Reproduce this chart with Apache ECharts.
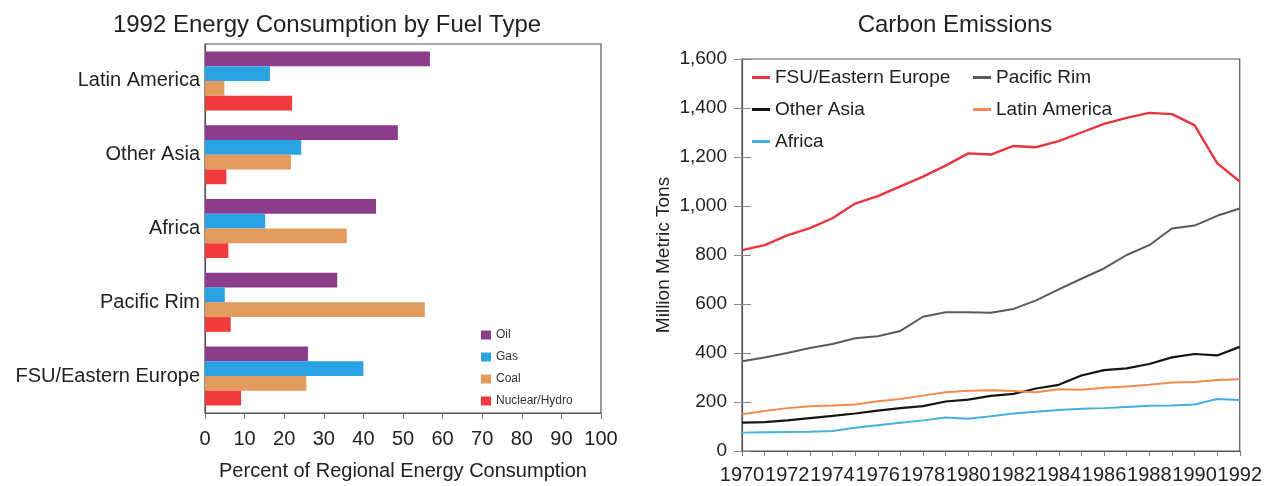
<!DOCTYPE html>
<html>
<head>
<meta charset="utf-8">
<script src="https://cdn.jsdelivr.net/npm/echarts@6/dist/echarts.min.js"></script>
<style>
html,body{margin:0;padding:0;background:#fff;}
#main{width:1265px;height:486px;}
</style>
</head>
<body>
<div id="main"></div>
<script>
// ---- Left chart data: 1992 energy consumption by fuel type (percent) ----
var regions = ['Latin America', 'Other Asia', 'Africa', 'Pacific Rim', 'FSU/Eastern Europe'];
var fuelNames = ['Oil', 'Gas', 'Coal', 'Nuclear/Hydro'];
var oil     = [56.8, 48.7, 43.2, 33.4, 26.0];
var gas     = [16.4, 24.3, 15.2, 5.0, 40.0];
var coal    = [4.9, 21.7, 35.8, 55.5, 25.6];
var nuclear = [22.0, 5.4, 5.9, 6.5, 9.1];
var percentTicks = [0, 100, 10];

// ---- Right chart data: carbon emissions (million metric tons) ----
var years = ['1970','1971','1972','1973','1974','1975','1976','1977','1978','1979','1980','1981',
             '1982','1983','1984','1985','1986','1987','1988','1989','1990','1991','1992'];
var fsu      = [820, 840, 880, 910, 950, 1010, 1040, 1080, 1120, 1165, 1215, 1210, 1245, 1240, 1265, 1300, 1335, 1360, 1380, 1375, 1330, 1175, 1100];
var pacRim   = [366, 382, 400, 420, 437, 460, 468, 490, 548, 566, 566, 564, 580, 615, 660, 703, 745, 800, 840, 908, 920, 960, 990];
var otherAsia= [116, 118, 125, 134, 143, 153, 165, 175, 183, 202, 210, 225, 233, 255, 270, 308, 330, 337, 355, 382, 396, 390, 425];
var latAm    = [150, 163, 175, 183, 186, 190, 203, 212, 226, 240, 246, 248, 245, 240, 252, 250, 258, 263, 270, 280, 282, 290, 293];
var africa   = [75, 77, 78, 79, 82, 95, 105, 115, 125, 137, 132, 142, 153, 160, 167, 172, 175, 180, 185, 186, 190, 212, 208];
var emissionTicks = [0, 1600, 200];

var FONT = '"Liberation Sans", Arial, Helvetica, sans-serif';
var TXT = '#222';
var AX = '#555';

var fuelColors = ['#8b3d8c', '#29a3e3', '#e39a5d', '#f23a3d'];
var fuelData = [oil, gas, coal, nuclear];

var lineDefs = [
  {name: 'FSU/Eastern Europe', data: fsu, color: '#e8343c', w: 2.4},
  {name: 'Pacific Rim', data: pacRim, color: '#5a5a5a', w: 2},
  {name: 'Other Asia', data: otherAsia, color: '#151515', w: 2.2},
  {name: 'Latin America', data: latAm, color: '#f28a4e', w: 2},
  {name: 'Africa', data: africa, color: '#45b0e0', w: 2}
];

var series = [];
fuelNames.forEach(function (n, i) {
  series.push({
    name: n, type: 'bar', xAxisIndex: 0, yAxisIndex: 0,
    data: fuelData[i], barGap: '0%', barCategoryGap: '20%',
    itemStyle: {color: fuelColors[i]}
  });
});
lineDefs.forEach(function (d) {
  series.push({
    name: d.name, type: 'line', xAxisIndex: 1, yAxisIndex: 1,
    data: d.data, symbol: 'none', color: d.color,
    lineStyle: {color: d.color, width: d.w}
  });
});

var chart = echarts.init(document.getElementById('main'), null, {renderer: 'canvas'});
chart.setOption({
  animation: false,
  backgroundColor: '#fff',
  textStyle: {fontFamily: FONT, color: TXT},
  graphic: [
    {type: 'text', x: 327, y: 25, style: {text: '1992 Energy Consumption by Fuel Type', font: '24px ' + FONT, fill: TXT, textAlign: 'center', textVerticalAlign: 'middle'}},
    {type: 'text', x: 955, y: 25, style: {text: 'Carbon Emissions', font: '24px ' + FONT, fill: TXT, textAlign: 'center', textVerticalAlign: 'middle'}}
  ],
  legend: [
    {
      data: fuelNames, orient: 'vertical', left: 476, top: 324,
      itemWidth: 10, itemHeight: 9, itemGap: 10, icon: 'rect',
      textStyle: {fontSize: 12, color: '#333', fontFamily: FONT}
    },
    {
      data: ['FSU/Eastern Europe', 'Other Asia', 'Africa'], orient: 'vertical', left: 747, top: 63,
      itemWidth: 18, itemHeight: 3, itemGap: 13, icon: 'rect',
      textStyle: {fontSize: 19, color: TXT, fontFamily: FONT}
    },
    {
      data: ['Pacific Rim', 'Latin America'], orient: 'vertical', left: 968, top: 63,
      itemWidth: 18, itemHeight: 3, itemGap: 13, icon: 'rect',
      textStyle: {fontSize: 19, color: TXT, fontFamily: FONT}
    }
  ],
  grid: [
    {left: 205, right: 664, top: 44, bottom: 68, show: true, borderColor: AX, borderWidth: 1.2, backgroundColor: 'transparent', containLabel: false},
    {left: 742, right: 23, top: 59, bottom: 35, show: true, borderColor: AX, borderWidth: 1.2, backgroundColor: 'transparent', containLabel: false}
  ],
  xAxis: [
    {
      gridIndex: 0, type: 'value', min: percentTicks[0], max: percentTicks[1], interval: percentTicks[2],
      name: 'Percent of Regional Energy Consumption', nameLocation: 'middle', nameGap: 48,
      nameTextStyle: {fontSize: 20, color: TXT},
      axisLine: {show: true, lineStyle: {color: AX, width: 1.2}},
      axisTick: {show: true, length: 6, lineStyle: {color: '#777'}},
      axisLabel: {fontSize: 20, color: TXT, margin: 16},
      splitLine: {show: false}
    },
    {
      gridIndex: 1, type: 'category', data: years, boundaryGap: false,
      axisLine: {show: true, lineStyle: {color: AX, width: 1.2}},
      axisTick: {show: true, interval: 0, length: 5, lineStyle: {color: '#777'}},
      axisLabel: {interval: 1, fontSize: 20, color: TXT, margin: 14},
      splitLine: {show: false}
    }
  ],
  yAxis: [
    {
      gridIndex: 0, type: 'category', data: regions, inverse: true,
      axisLine: {show: true, lineStyle: {color: AX, width: 1.2}},
      axisTick: {show: false},
      axisLabel: {fontSize: 20, color: TXT, margin: 5}
    },
    {
      gridIndex: 1, type: 'value', min: emissionTicks[0], max: emissionTicks[1], interval: emissionTicks[2],
      name: 'Million Metric Tons', nameLocation: 'middle', nameGap: 69,
      nameTextStyle: {fontSize: 19, color: TXT},
      axisLine: {show: true, lineStyle: {color: AX, width: 1.2}},
      axisTick: {show: true, length: 8, lineStyle: {color: '#888'}},
      axisLabel: {fontSize: 19, color: TXT, margin: 15, formatter: function (v) { return v.toLocaleString('en-US'); }},
      splitLine: {show: false}
    },
    {
      gridIndex: 1, type: 'value', min: emissionTicks[0], max: emissionTicks[1], interval: emissionTicks[2],
      position: 'left', offset: 0,
      axisLine: {show: false},
      axisTick: {show: true, inside: true, length: 9, lineStyle: {color: '#888'}},
      axisLabel: {show: false},
      splitLine: {show: false}
    }
  ],
  series: series
});
</script>
</body>
</html>
